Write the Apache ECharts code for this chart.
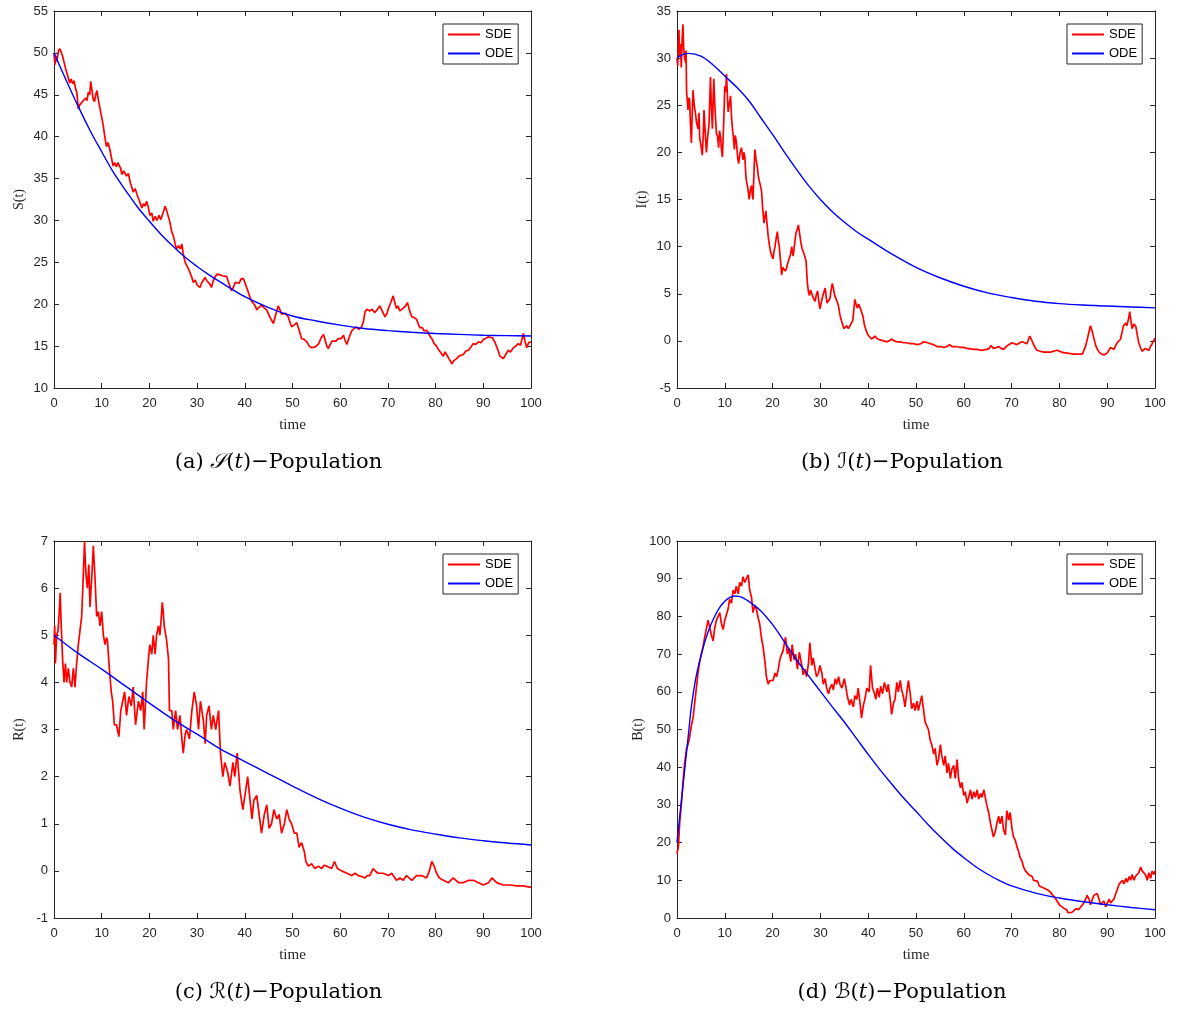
<!DOCTYPE html>
<html>
<head>
<meta charset="utf-8">
<script src="https://cdn.jsdelivr.net/npm/echarts@6/dist/echarts.min.js"></script>
<style>
html,body{margin:0;padding:0;background:#fff;}
#main{width:1177px;height:1012px;}
</style>
</head>
<body>
<div id="main"></div>
<script>
// ---------- DATA ----------
const xTicks = {min: 0, max: 100, interval: 10};
const seriesNames = ['SDE', 'ODE'];
const yLabels = ['S(t)', 'I(t)', 'R(t)', 'B(t)'];
const captions = ['(a) ', '(b) ', '(c) ', '(d) '];
const captionLetters = ['\u{1D4AE}', '\u2110', '\u211B', '\u212C'];
const yRangeS = [10, 55, 5];
const yRangeI = [-5, 35, 5];
const yRangeR = [-1, 7, 1];
const yRangeB = [0, 100, 10];

const sdeS = [[0,50],[0.2,48.6],[0.4,49.6],[0.6,49.0],[0.9,50.2],[1.2,50.5],[1.5,50.1],[1.8,49.6],[2.1,48.9],[2.4,48.2],[2.7,47.6],[3.0,47.0],[3.3,46.4],[3.6,46.9],[3.9,46.3],[4.2,46.7],[4.5,45.8],[4.8,45.2],[5.1,43.3],[5.4,43.8],[5.7,43.6],[6.0,44.2],[6.3,44.0],[6.6,44.6],[6.9,44.3],[7.2,45.3],[7.5,45.0],[7.7,46.6],[8.0,45.4],[8.2,44.5],[8.5,44.2],[8.8,45.1],[9.0,45.5],[9.3,44.4],[9.6,43.5],[9.9,42.6],[10.3,41.4],[10.6,40.2],[11.0,38.8],[11.3,39.3],[11.7,38.5],[12.0,37.6],[12.4,36.5],[12.7,36.9],[13.1,36.4],[13.4,36.9],[13.7,37.1],[14.0,36.2],[14.2,35.5],[14.6,35.9],[15.2,35.3],[15.6,35.6],[16.0,34.5],[16.3,34.0],[16.6,33.4],[17.0,33.8],[17.4,33.1],[17.7,33.0],[18.0,32.2],[18.4,31.5],[18.8,32.0],[19.1,31.7],[19.4,32.3],[19.8,31.5],[20.1,30.6],[20.5,30.9],[20.8,29.9],[21.2,30.5],[21.6,30.0],[22.0,30.6],[22.4,30.1],[22.8,30.8],[23.3,31.7],[23.6,31.2],[24.0,31.0],[24.3,29.8],[24.7,28.6],[25.0,28.2],[25.4,27.2],[25.7,26.6],[26.1,27.0],[26.5,26.6],[26.8,27.2],[27.1,26.0],[27.5,25.0],[27.9,24.8],[28.2,24.2],[28.5,24.0],[28.9,23.2],[29.2,22.6],[29.6,22.9],[30.0,22.3],[30.3,22.1],[30.6,22.0],[31.0,22.6],[31.3,22.4],[31.7,23.2],[32.0,22.8],[32.4,23.0],[32.7,22.4],[33.0,22.0],[33.4,22.8],[33.8,23.3],[34.2,23.6],[34.8,23.5],[35.3,23.4],[35.7,23.6],[36.2,23.3],[36.6,22.6],[37.2,21.6],[37.6,22.0],[38.0,22.6],[38.3,22.8],[38.8,22.5],[39.2,23.0],[39.7,23.1],[40.2,22.3],[40.7,21.5],[41.1,20.8],[41.4,20.4],[41.8,20.6],[42.2,19.8],[42.5,19.3],[42.9,19.6],[43.5,19.9],[44.0,19.6],[44.6,19.3],[45.0,18.8],[45.4,18.3],[46.0,17.7],[46.4,18.6],[47.0,19.8],[47.4,19.3],[47.7,18.8],[48.1,18.7],[48.6,18.9],[49.1,18.5],[49.5,17.8],[49.8,17.3],[50.3,17.5],[50.9,17.8],[51.4,16.9],[51.9,15.9],[52.4,15.8],[53.0,15.5],[53.5,15.0],[54.0,14.8],[54.4,14.6],[54.8,14.9],[55.1,14.7],[55.5,15.3],[56.0,16.0],[56.5,16.4],[56.9,15.6],[57.2,15.0],[57.5,14.7],[57.9,15.2],[58.3,15.6],[58.6,15.8],[59.1,15.6],[59.6,15.9],[60.2,15.9],[60.7,16.3],[61.0,15.7],[61.4,15.2],[61.8,15.9],[62.4,16.8],[62.9,17.1],[63.4,17.3],[63.9,17.0],[64.5,17.3],[64.9,18.0],[65.2,19.1],[65.6,19.4],[66.2,19.2],[66.7,19.4],[67.2,19.0],[67.7,19.3],[68.3,19.8],[68.8,19.2],[69.4,18.5],[69.8,18.9],[70.1,19.5],[70.6,20.2],[71.1,21.0],[71.4,20.3],[71.8,19.5],[72.1,19.8],[72.5,19.2],[72.9,19.4],[73.2,19.5],[73.7,19.8],[74.1,20.2],[74.5,19.3],[75.0,18.5],[75.5,18.4],[76.0,18.2],[76.4,17.6],[76.7,17.2],[77.2,17.2],[77.6,16.8],[78.1,16.9],[78.5,16.6],[78.8,16.2],[79.3,15.8],[79.7,15.3],[80.2,15.0],[80.7,14.5],[81.1,14.2],[81.6,13.8],[82.0,14.3],[82.3,14.2],[82.8,13.5],[83.4,12.9],[83.9,13.3],[84.4,13.5],[84.9,13.8],[85.3,13.6],[85.8,14.0],[86.3,14.4],[86.9,14.5],[87.4,14.9],[87.9,15.3],[88.4,15.2],[89.0,15.5],[89.5,15.4],[90.0,15.8],[90.5,15.9],[91.0,16.1],[91.4,16.3],[91.9,16.0],[92.4,15.5],[92.9,14.8],[93.5,13.8],[93.9,13.9],[94.2,13.5],[94.7,14.0],[95.2,14.5],[95.7,14.3],[96.3,14.8],[96.8,15.0],[97.3,15.3],[97.8,15.1],[98.1,15.8],[98.4,16.5],[98.7,15.7],[99.1,14.8],[99.5,15.4],[100,15.5]];

const odeS = [[0,50],[2.5,46.8],[5,43.7],[7.5,40.8],[10,38.2],[12.5,35.7],[15,33.6],[17.5,31.6],[20,29.9],[22.5,28.3],[25,26.9],[27.5,25.6],[30,24.5],[32.5,23.5],[35,22.6],[40,20.9],[45,19.6],[50,18.6],[55,18.0],[60,17.5],[65,17.1],[70,16.85],[75,16.65],[80,16.5],[85,16.4],[90,16.3],[95,16.25],[100,16.2]];

const sdeI = [[0,30],[0.15,29.2],[0.3,31.2],[0.4,33.0],[0.55,30.2],[0.7,31.5],[0.9,29.0],[1.05,31.8],[1.25,33.6],[1.4,31.0],[1.6,30.0],[1.8,29.5],[1.9,30.8],[2.0,26.5],[2.15,25.5],[2.3,24.5],[2.5,25.8],[2.65,25.5],[2.8,23.2],[3.0,21.0],[3.15,23.5],[3.35,26.6],[3.6,25.0],[3.9,24.0],[4.1,23.1],[4.4,22.5],[4.6,24.2],[4.75,21.5],[5.0,20.8],[5.3,19.7],[5.5,22.0],[5.65,24.5],[5.9,22.1],[6.15,20.0],[6.4,21.6],[6.7,23.0],[6.85,25.5],[7.0,28.0],[7.2,24.8],[7.4,22.5],[7.55,25.3],[7.7,27.8],[7.95,24.6],[8.25,22.0],[8.5,21.7],[8.7,20.5],[8.9,22.3],[9.15,21.5],[9.3,20.3],[9.5,19.5],[9.75,22.8],[10.0,27.0],[10.2,26.4],[10.35,28.3],[10.55,26.0],[10.7,24.3],[10.95,25.1],[11.2,26.0],[11.4,23.8],[11.6,22.5],[11.8,21.6],[12.0,20.3],[12.2,21.8],[12.45,21.0],[12.7,19.4],[12.9,18.8],[13.2,20.0],[13.5,20.5],[13.8,19.2],[14.0,20.0],[14.2,19.5],[14.35,18.0],[14.5,17.0],[14.8,16.3],[15.1,15.0],[15.35,16.0],[15.6,16.5],[15.75,15.5],[15.9,15.0],[16.1,17.8],[16.3,20.3],[16.55,19.2],[16.8,18.5],[17.0,17.5],[17.2,17.0],[17.45,16.5],[17.7,15.8],[17.9,14.2],[18.2,12.5],[18.4,13.2],[18.6,13.8],[18.85,12.3],[19.1,11.0],[19.35,10.1],[19.6,9.4],[19.85,9.0],[20.1,8.7],[20.3,9.5],[20.5,10.0],[20.75,10.9],[21.0,11.6],[21.2,10.6],[21.4,10.0],[21.65,8.5],[21.9,7.0],[22.15,7.8],[22.4,8.0],[22.65,7.4],[22.9,7.7],[23.2,8.3],[23.5,8.5],[23.75,9.2],[24.0,10.0],[24.15,9.4],[24.3,9.0],[24.6,10.3],[24.9,11.5],[25.15,11.8],[25.4,12.3],[25.65,11.4],[25.9,10.5],[26.15,9.8],[26.4,9.5],[26.7,9.0],[27.0,8.5],[27.15,7.2],[27.3,6.0],[27.5,5.2],[27.7,4.8],[27.95,5.4],[28.2,5.0],[28.55,4.5],[28.9,4.2],[29.15,4.9],[29.4,5.3],[29.65,4.3],[29.9,3.4],[30.2,4.1],[30.5,4.8],[30.75,5.0],[31.0,5.6],[31.2,4.7],[31.4,4.0],[31.7,4.2],[32.0,4.5],[32.25,5.4],[32.5,6.1],[32.75,5.5],[33.0,4.8],[33.4,4.3],[33.8,3.7],[34.0,3.0],[34.2,2.5],[34.55,1.9],[34.9,1.3],[35.2,1.5],[35.5,1.6],[35.85,1.3],[36.2,1.5],[36.5,1.9],[36.8,2.2],[37.0,3.3],[37.2,4.4],[37.45,3.9],[37.7,3.5],[38.0,3.9],[38.3,3.7],[38.6,3.1],[38.9,2.6],[39.1,2.0],[39.3,1.5],[39.65,1.0],[40.0,0.6],[40.35,0.4],[40.7,0.2],[41.05,0.4],[41.4,0.5],[41.95,0.2],[42.5,0.1],[43.2,0.0],[43.9,-0.1],[44.4,0.0],[44.9,0.2],[45.45,0.0],[46.0,-0.1],[46.7,-0.1],[47.4,-0.2],[48.1,-0.2],[48.8,-0.3],[49.5,-0.3],[50.2,-0.4],[51.0,-0.3],[51.6,-0.1],[51.9,0.0],[52.45,-0.2],[53.0,-0.3],[53.7,-0.4],[54.4,-0.6],[55.1,-0.6],[55.8,-0.7],[56.5,-0.6],[57.0,-0.4],[57.2,-0.3],[57.5,-0.6],[58.4,-0.6],[59.3,-0.7],[60.0,-0.7],[60.7,-0.8],[61.4,-0.85],[62.1,-0.9],[62.8,-0.9],[63.5,-1.0],[64.2,-0.95],[64.8,-0.9],[65.3,-0.8],[65.7,-0.5],[66.0,-0.7],[66.2,-0.8],[66.8,-0.7],[67.3,-0.6],[67.8,-0.8],[68.3,-0.9],[68.9,-0.6],[69.4,-0.4],[69.8,-0.3],[70.1,-0.2],[70.6,-0.3],[71.1,-0.4],[71.7,-0.2],[72.2,-0.1],[72.7,-0.2],[73.2,-0.3],[73.5,0.1],[73.8,0.5],[74.2,0.1],[74.5,-0.3],[74.9,-0.7],[75.3,-1.0],[76.0,-1.1],[76.7,-1.2],[77.4,-1.2],[78.1,-1.2],[78.8,-1.1],[79.5,-1.0],[79.9,-1.2],[80.8,-1.25],[81.6,-1.3],[82.3,-1.35],[83.0,-1.4],[83.9,-1.4],[84.8,-1.4],[85.2,-0.9],[85.5,-0.5],[85.9,0.3],[86.2,1.0],[86.5,1.6],[86.8,1.1],[87.1,0.5],[87.35,0.0],[87.6,-0.5],[87.95,-0.9],[88.3,-1.2],[88.8,-1.4],[89.3,-1.5],[89.65,-1.4],[90.0,-1.3],[90.35,-1.0],[90.7,-0.7],[91.05,-0.8],[91.4,-0.9],[91.75,-0.5],[92.1,-0.2],[92.45,0.0],[92.8,0.2],[93.1,0.9],[93.4,1.6],[93.65,1.5],[93.9,1.9],[94.1,1.6],[94.3,1.7],[94.5,2.4],[94.7,3.1],[94.95,2.2],[95.2,1.3],[95.6,1.8],[96.0,1.5],[96.3,0.6],[96.6,-0.2],[96.95,-0.7],[97.3,-1.1],[97.65,-0.9],[98.0,-0.8],[98.35,-1.0],[98.7,-1.0],[99.05,-0.6],[99.4,-0.3],[99.7,0.0],[100,0.3]];

const odeI = [[0,30],[1,30.35],[2.5,30.5],[5,30.2],[7.5,29.3],[10,28.1],[12.5,26.9],[15,25.5],[17.5,23.7],[20,21.9],[22.5,20.0],[25,18.2],[27.5,16.5],[30,15.0],[32.5,13.7],[35,12.6],[37.5,11.6],[40,10.8],[45,9.2],[50,7.8],[55,6.7],[60,5.8],[65,5.1],[70,4.6],[75,4.2],[80,3.95],[85,3.8],[90,3.7],[95,3.6],[100,3.5]];

const sdeR = [[0,4.8],[0.15,5.2],[0.3,4.4],[0.55,5.0],[0.85,5.1],[1.1,5.5],[1.3,5.9],[1.45,5.4],[1.6,5.0],[1.8,4.5],[2.1,4.0],[2.4,4.4],[2.65,4.0],[3.0,4.3],[3.35,4.0],[3.7,3.9],[4.05,4.3],[4.4,3.9],[4.75,4.4],[5.1,4.8],[5.45,5.1],[5.8,5.4],[6.0,5.9],[6.15,6.3],[6.3,6.7],[6.4,7.0],[6.55,6.6],[6.7,6.3],[7.0,6.0],[7.3,6.5],[7.55,5.6],[7.9,6.2],[8.1,6.6],[8.25,6.9],[8.4,6.6],[8.6,6.2],[8.95,5.4],[9.3,5.5],[9.65,5.2],[10.0,5.5],[10.35,5.0],[10.7,4.8],[11.0,4.95],[11.2,4.9],[11.6,4.3],[12.0,3.8],[12.3,3.6],[12.65,3.1],[13.1,3.1],[13.6,2.85],[14.0,3.4],[14.4,3.6],[14.8,3.8],[15.2,3.3],[15.7,3.7],[16.2,3.5],[16.6,3.9],[17.1,3.1],[17.7,3.6],[18.2,3.4],[18.6,3.8],[18.9,3.0],[19.4,4.0],[19.8,4.5],[20.1,4.8],[20.5,4.6],[20.8,5.0],[21.2,4.6],[21.5,5.0],[21.9,5.2],[22.2,5.0],[22.5,5.4],[22.7,5.7],[22.9,5.5],[23.1,5.2],[23.6,4.9],[24.0,4.5],[24.2,3.4],[24.7,3.4],[25.0,3.0],[25.5,3.4],[25.9,3.0],[26.4,3.3],[26.8,2.8],[27.1,2.5],[27.5,2.9],[27.8,3.0],[28.4,2.8],[28.9,3.4],[29.4,3.8],[29.9,3.5],[30.3,3.0],[30.7,3.6],[31.3,3.2],[31.7,2.7],[32.0,3.3],[32.5,3.5],[33.0,3.0],[33.4,3.3],[33.9,3.0],[34.5,3.4],[34.9,2.5],[35.4,2.0],[35.8,2.3],[36.4,2.1],[36.9,1.8],[37.5,2.3],[37.9,2.0],[38.4,2.5],[39.0,1.7],[39.6,1.3],[40.0,1.3],[40.6,2.0],[41.1,1.5],[41.5,1.1],[41.9,1.5],[42.5,1.6],[43.0,1.2],[43.5,0.8],[44.1,1.2],[44.6,1.4],[45.1,0.9],[45.6,1.0],[46.1,1.3],[46.7,1.1],[47.2,1.2],[47.7,0.8],[48.3,1.0],[48.8,1.3],[49.3,1.1],[49.8,1.0],[50.4,0.8],[50.9,0.8],[51.4,0.5],[51.9,0.6],[52.5,0.4],[52.8,0.2],[53.3,0.1],[54.0,0.15],[54.7,0.05],[55.4,0.1],[56.1,0.05],[56.6,0.12],[57.2,0.1],[58.2,0.05],[58.8,0.2],[59.4,0.05],[60.3,0.0],[61.4,-0.05],[62.4,-0.1],[63.1,-0.05],[63.8,-0.1],[64.5,-0.12],[65.2,-0.15],[65.7,-0.1],[66.2,-0.1],[66.9,0.05],[67.5,-0.02],[68.0,-0.05],[69.0,-0.05],[70.1,-0.1],[70.8,-0.05],[71.8,-0.2],[72.5,-0.15],[73.2,-0.2],[73.9,-0.1],[75.0,-0.2],[76.0,-0.1],[77.1,-0.1],[78.1,-0.15],[78.7,0.0],[79.2,0.2],[79.7,0.1],[80.2,-0.05],[80.8,-0.15],[81.6,-0.2],[82.7,-0.25],[83.7,-0.15],[84.8,-0.25],[85.8,-0.25],[86.9,-0.2],[87.9,-0.2],[89.0,-0.25],[90.0,-0.3],[91.1,-0.25],[91.8,-0.15],[92.8,-0.25],[94.2,-0.3],[95.6,-0.3],[97.0,-0.32],[98.4,-0.32],[100,-0.35]];

const odeR = [[0,5.0],[5,4.62],[10,4.28],[15,3.92],[20,3.56],[25,3.21],[30,2.9],[35,2.58],[40,2.32],[45,2.06],[50,1.8],[55,1.55],[60,1.33],[65,1.14],[70,0.99],[75,0.87],[80,0.78],[85,0.70],[90,0.64],[95,0.59],[100,0.55]];

const sdeB = [[0,17],[0.3,19],[0.55,25],[0.9,30],[1.25,36],[1.6,41],[2.0,45],[2.3,46],[2.65,48],[3.0,51],[3.35,53],[3.7,57],[4.05,61],[4.4,65],[4.75,68],[5.1,70],[5.45,72],[5.8,74.5],[6.15,75],[6.5,79],[6.85,77],[7.2,75],[7.55,73.5],[7.9,77],[8.25,79],[8.6,78.5],[8.95,81],[9.3,78],[9.65,76.5],[10.0,79],[10.35,80.5],[10.7,82],[11.0,84.5],[11.4,83.5],[11.75,87],[12.1,86],[12.4,88],[12.8,86],[13.1,89],[13.5,88],[13.8,90.5],[14.2,89],[14.5,90],[14.9,91],[15.2,87],[15.6,85],[15.9,81],[16.3,83],[16.6,82],[17.0,79.5],[17.3,78],[17.7,74],[18.0,72],[18.4,68],[18.7,64],[19.1,62],[19.4,63],[19.8,63.5],[20.1,63],[20.5,65],[20.8,64],[21.2,66],[21.5,68.5],[21.9,70],[22.2,71],[22.7,74.5],[23.1,70],[23.4,71.5],[23.8,68],[24.1,72.5],[24.5,68.5],[24.8,70],[25.2,66],[25.6,70.5],[26.1,67],[26.4,64.5],[26.8,66],[27.1,64],[27.5,67.5],[27.8,73],[28.2,67],[28.5,69],[28.9,66],[29.2,64],[29.6,65],[29.9,67],[30.3,65],[30.6,62],[31.0,63.5],[31.3,61],[31.7,59.5],[32.0,61],[32.4,62],[32.7,60.5],[33.1,63.5],[33.4,62],[33.8,64],[34.1,62],[34.5,61],[35.0,63.5],[35.3,61.5],[35.6,59],[36.1,56.5],[36.4,58],[36.9,56],[37.2,59],[37.6,58],[37.9,61],[38.3,57],[38.6,53],[39.0,56.5],[39.3,58],[39.7,61],[40.2,60],[40.5,67],[40.9,61],[41.2,60],[41.6,58],[41.9,61],[42.3,58.5],[42.6,61.5],[43.0,59.5],[43.4,62.5],[43.9,60],[44.2,62],[44.6,58],[44.9,54],[45.3,57],[45.6,58],[46.0,62.5],[46.3,60],[46.7,63],[47.0,60.5],[47.4,58.5],[47.7,56],[48.1,60],[48.4,63],[48.8,59.5],[49.1,55.5],[49.5,57],[49.8,55],[50.2,57.5],[50.5,55],[50.9,54.5],[51.2,59],[51.6,55],[51.9,52],[52.3,51.5],[52.6,50],[53.0,47],[53.3,46],[53.7,43.5],[54.0,45],[54.4,40.5],[54.7,42],[55.1,46],[55.4,43],[55.8,40.5],[56.1,43],[56.5,38.5],[56.8,41],[57.2,37],[57.5,39.5],[57.9,40.5],[58.2,37],[58.6,42],[58.9,37],[59.3,34.5],[59.6,36],[60.0,32.5],[60.3,33.5],[60.7,30.5],[61.0,32],[61.4,34],[61.7,31.5],[62.1,33.5],[62.4,32],[62.8,34],[63.1,31.5],[63.5,33],[63.8,32],[64.2,34],[64.5,32],[64.8,30],[65.2,28],[65.6,25],[65.9,24.5],[66.2,21.5],[66.6,23],[66.9,25],[67.3,27],[67.6,25],[68.0,27],[68.3,23.5],[68.7,22],[69.0,28.5],[69.4,26],[69.7,28],[70.1,23.5],[70.4,21.5],[70.8,20.5],[71.1,19],[71.5,17.5],[71.8,16],[72.2,15],[72.5,13.5],[72.9,12.5],[73.2,13],[73.6,11.5],[73.9,12],[74.3,11],[74.6,10],[75.0,9.5],[75.4,9.8],[75.8,8.5],[76.2,9],[76.6,8],[77.0,8.3],[77.5,7.5],[78.0,7],[78.5,6.2],[79.0,5.5],[79.5,4.5],[80.0,3.5],[80.5,3],[81.0,2.5],[81.5,2.2],[81.8,1.4],[82.2,1.8],[82.6,1.5],[83.0,2],[83.5,2.5],[84.0,2.2],[84.5,3],[85.0,3.8],[85.5,5],[85.8,6],[86.2,5],[86.5,3.5],[86.9,5],[87.2,6],[87.6,5.5],[87.9,6.5],[88.3,5],[88.6,3.5],[89.0,4],[89.3,4.5],[89.7,3],[90.0,3.5],[90.4,5],[90.7,4],[91.1,3.5],[91.4,5],[91.8,6.5],[92.1,7.5],[92.5,9],[92.9,8.5],[93.2,10],[93.5,9],[93.9,10.5],[94.2,9.5],[94.6,11],[94.9,10],[95.2,11.5],[95.6,10],[95.9,11],[96.3,10.5],[96.6,12],[97.0,13.5],[97.3,12.5],[97.7,13],[98.0,11.5],[98.4,10],[98.7,12],[99.1,10.5],[99.4,12.5],[99.8,11.5],[100,12.5]];

const odeB = [[0,20],[0.5,26],[1,32],[1.5,38],[2,44],[2.5,50],[3,56],[4,64],[5,69.5],[6,74],[7,77.5],[8,80.3],[9,82.5],[10,84],[11,85],[12,85.4],[13,85.3],[14,84.8],[15,84],[17.5,81.5],[20,77.8],[22.5,73.2],[25,68.5],[27.5,64.3],[30,60.1],[32.5,56],[35,52],[37.5,47.7],[40,43.4],[42.5,39.3],[45,35.4],[47.5,31.7],[50,28.3],[52.5,24.8],[55,21.6],[57.5,18.6],[60,16],[62.5,13.6],[65,11.6],[67.5,9.9],[70,8.5],[75,6.6],[80,5.3],[85,4.3],[90,3.5],[95,2.8],[100,2.2]];

// ---------- LAYOUT ----------
const grids = [
  {left: 54, top: 11, width: 477, height: 377},
  {left: 677, top: 11, width: 478, height: 377},
  {left: 54, top: 541, width: 477, height: 377},
  {left: 677, top: 541, width: 478, height: 377}
];
const yRanges = [yRangeS, yRangeI, yRangeR, yRangeB];
const sdeData = [sdeS, sdeI, sdeR, sdeB];
const odeData = [odeS, odeI, odeR, odeB];
const axisColor = '#262626';
const tickFont = 'Liberation Sans, Arial, Helvetica, sans-serif';
const serifFont = 'Liberation Serif, Times New Roman, serif';

const xAxes = [], yAxes = [], series = [], legends = [], graphics = [];
grids.forEach((g, i) => {
  const base = {
    type: 'value', gridIndex: i, min: xTicks.min, max: xTicks.max, interval: xTicks.interval,
    axisLine: {show: true, onZero: false, lineStyle: {color: axisColor, width: 1}},
    axisTick: {show: true, inside: true, length: 5, lineStyle: {color: axisColor}},
    splitLine: {show: false}
  };
  xAxes.push(Object.assign({}, base, {
    position: 'bottom',
    axisLabel: {color: axisColor, fontSize: 13, fontFamily: tickFont, margin: 9},
    name: 'time', nameLocation: 'middle', nameGap: 30,
    nameTextStyle: {color: axisColor, fontSize: 15, fontFamily: serifFont}
  }));
  const yr = yRanges[i];
  const ybase = {
    type: 'value', gridIndex: i, min: yr[0], max: yr[1], interval: yr[2],
    axisLine: {show: true, onZero: false, lineStyle: {color: axisColor, width: 1}},
    axisTick: {show: true, inside: true, length: 5, lineStyle: {color: axisColor}},
    splitLine: {show: false}
  };
  yAxes.push(Object.assign({}, ybase, {
    position: 'left',
    axisLabel: {color: axisColor, fontSize: 13, fontFamily: tickFont, margin: 6},
    name: yLabels[i], nameLocation: 'middle', nameGap: 28,
    nameTextStyle: {color: axisColor, fontSize: 14, fontFamily: serifFont}
  }));
  series.push({
    name: 'SDE', type: 'line', xAxisIndex: i, yAxisIndex: i, data: sdeData[i],
    showSymbol: false, symbol: 'none', lineStyle: {color: '#ff0000', width: 1.7}, itemStyle: {color: '#ff0000'},
    z: 2, animation: false, clip: true
  });
  series.push({
    name: 'ODE', type: 'line', xAxisIndex: i, yAxisIndex: i, data: odeData[i], smooth: 0.35,
    showSymbol: false, symbol: 'none', lineStyle: {color: '#0000ff', width: 1.4}, itemStyle: {color: '#0000ff'},
    z: 3, animation: false, clip: true
  });
  legends.push({
    data: seriesNames, orient: 'vertical', left: g.left + g.width - 88, top: g.top + 13,
    padding: [4, 5, 4, 5], itemGap: 6, itemWidth: 32, itemHeight: 2, icon: 'rect',
    borderColor: axisColor, borderWidth: 1, backgroundColor: '#fff',
    textStyle: {color: '#000', fontSize: 13, fontFamily: tickFont}
  });
  const cx = g.left + g.width / 2 - 14;
  const cy = g.top + g.height + 75;
  graphics.push({
    type: 'text', x: cx, y: cy,
    style: {
      text: '{n|' + captions[i] + '}{s|' + captionLetters[i] + '}{n|(}{i|t}{n|)\u2212Population}',
      align: 'center', verticalAlign: 'middle',
      rich: {
        n: {fontFamily: 'DejaVu Serif, serif', fontSize: 21, fill: '#000'},
        s: {fontFamily: 'DejaVu Serif, DejaVu Sans, Noto Sans, serif', fontSize: 21, fill: '#000', fontStyle: 'italic'},
        i: {fontFamily: 'DejaVu Serif, serif', fontSize: 21, fill: '#000', fontStyle: 'italic'}
      }
    }
  });
});
grids.forEach((g, i) => {
  xAxes.push({
    type: 'value', gridIndex: i, min: xTicks.min, max: xTicks.max, interval: xTicks.interval, position: 'top',
    axisLine: {show: true, onZero: false, lineStyle: {color: axisColor, width: 1}},
    axisTick: {show: true, inside: true, length: 5, lineStyle: {color: axisColor}},
    axisLabel: {show: false}, splitLine: {show: false}
  });
  const yr = yRanges[i];
  yAxes.push({
    type: 'value', gridIndex: i, min: yr[0], max: yr[1], interval: yr[2], position: 'right',
    axisLine: {show: true, onZero: false, lineStyle: {color: axisColor, width: 1}},
    axisTick: {show: true, inside: true, length: 5, lineStyle: {color: axisColor}},
    axisLabel: {show: false}, splitLine: {show: false}
  });
});

const chart = echarts.init(document.getElementById('main'), null, {renderer: 'canvas'});
chart.setOption({
  backgroundColor: '#fff',
  animation: false,
  grid: grids,
  xAxis: xAxes,
  yAxis: yAxes,
  legend: legends,
  series: series,
  graphic: graphics
});
</script>
</body>
</html>
